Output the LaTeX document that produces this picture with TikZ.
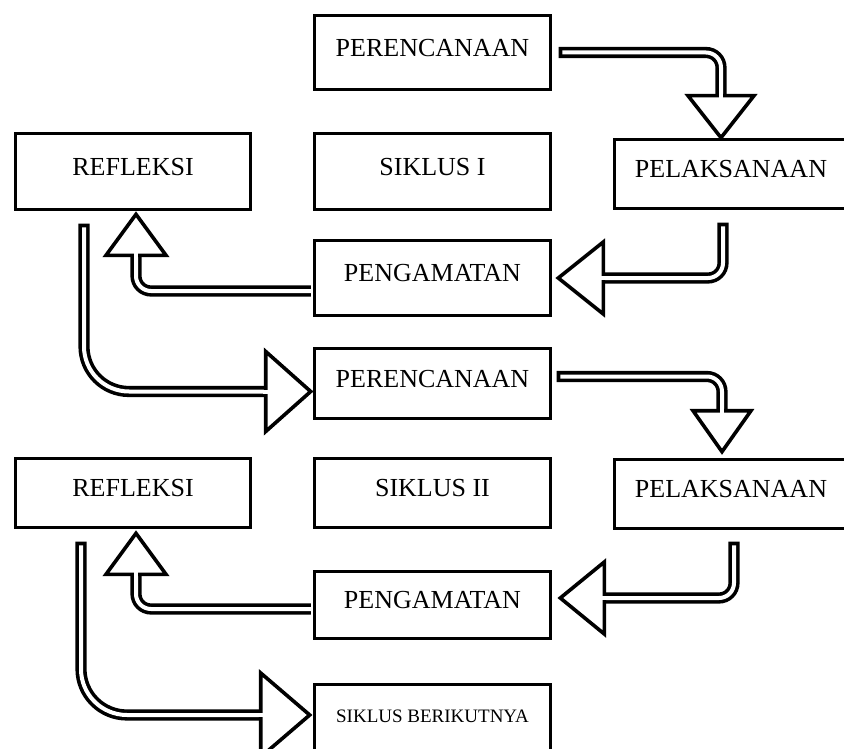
\documentclass[tikz,border=0pt]{standalone}
\usepackage{fontspec}
\setmainfont{Liberation Serif}
\tikzset{
  kotak/.style={draw, line width=3.6pt, minimum width=236pt, minimum height=74pt, inner sep=0pt, text depth=10pt, font=\fontsize{26}{30}\selectfont},
  panah/.style={draw, line width=3.6pt, double=white, double distance=4pt, line cap=rect, rounded corners=15pt},
  pics/kepala/.style 2 args={code={
    \draw[fill=white, line width=3.6pt, line join=miter] (0pt,0pt) -- (-#1pt,#2pt) -- (-#1pt,-#2pt) -- cycle;
    \draw[white, line width=4pt] (-#1pt-2.7pt,0pt) -- (-#1pt+2.7pt,0pt);
  }}
}
\begin{document}
\begin{tikzpicture}[x=1pt, y=-1pt]
    \useasboundingbox (0,0) rectangle (844,749);
    \clip (0,0) rectangle (844,749);
    \fill[white] (0,0) rectangle (844,749);

    \node[kotak] (per1) at (432.5,52.5) {PERENCANAAN};
    \node[kotak, minimum height=76pt] (sik1) at (432.5,171.5) {SIKLUS I};
    \node[kotak, minimum width=235pt, minimum height=76pt] (ref1) at (133,171.5) {REFLEKSI};
    \node[kotak, minimum width=233pt, minimum height=69pt] (pel1) at (731,174) {PELAKSANAAN};
    \node[kotak, minimum height=75pt] (pen1) at (432.5,278) {PENGAMATAN};
    \node[kotak, minimum height=70pt] (per2) at (432.5,383.5) {PERENCANAAN};
    \node[kotak, minimum width=235pt, minimum height=69pt] (ref2) at (133,493) {REFLEKSI};
    \node[kotak, minimum height=69pt] (sik2) at (432.5,493) {SIKLUS II};
    \node[kotak, minimum width=233pt, minimum height=69pt] (pel2) at (731,494) {PELAKSANAAN};
    \node[kotak, minimum height=67pt] (pen2) at (432.5,605) {PENGAMATAN};
    \node[kotak, minimum height=73pt, font=\fontsize{19}{22}\selectfont] (next) at (432.5,721) {SIKLUS BERIKUTNYA};

    \draw[panah] ([xshift=12pt]per1.east) -| ([xshift=-10pt,yshift=42pt]pel1.north);
    \pic[rotate=-90] at ([xshift=-10pt]pel1.north) {kepala={42}{33}};

    \draw[panah] ([xshift=-8pt,yshift=-18pt]pel1.south) |- ([xshift=51pt]pen1.east);
    \pic[rotate=180] at ([xshift=6pt]pen1.east) {kepala={45}{36}};

    \draw[panah, line cap=butt] ([xshift=-1.8pt,yshift=-13pt]pen1.west) -| ([xshift=3pt,yshift=-44pt]ref1.south);
    \pic[rotate=90] at ([xshift=3pt,yshift=-3pt]ref1.south) {kepala={41}{30}};

    \draw[panah, rounded corners=45pt] ([xshift=-49pt,yshift=-18pt]ref1.south) |- ([xshift=-47pt,yshift=-8pt]per2.west);
    \pic at ([xshift=-2pt,yshift=-8pt]per2.west) {kepala={45}{40}};

    \draw[panah] ([xshift=10pt,yshift=7pt]per2.east) -| ([xshift=-9pt,yshift=47pt]pel2.north);
    \pic[rotate=-90] at ([xshift=-9pt,yshift=6pt]pel2.north) {kepala={41}{29}};

    \draw[panah] ([xshift=3pt,yshift=-17pt]pel2.south) |- ([xshift=52pt,yshift=7pt]pen2.east);
    \pic[rotate=180] at ([xshift=8pt,yshift=7pt]pen2.east) {kepala={44}{36}};

    \draw[panah, line cap=butt] ([xshift=-1.8pt,yshift=-4pt]pen2.west) -| ([xshift=3pt,yshift=-45pt]ref2.south);
    \pic[rotate=90] at ([xshift=3pt,yshift=-4pt]ref2.south) {kepala={41}{30}};

    \draw[panah, rounded corners=46pt] ([xshift=-52pt,yshift=-18pt]ref2.south) |- ([xshift=-52pt,yshift=6pt]next.west);
    \pic at ([xshift=-3pt,yshift=6pt]next.west) {kepala={49}{42}};
\end{tikzpicture}
\end{document}
